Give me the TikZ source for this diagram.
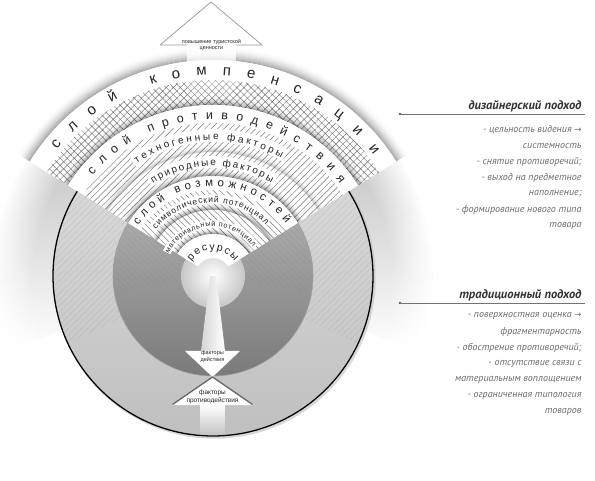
\documentclass[tikz,border=0pt]{standalone}
\usepackage{fontspec}
\setmainfont{Liberation Sans}
\newfontfamily\ptsans{PT Sans}
\newfontfamily\dvsans{DejaVu Sans}
\usetikzlibrary{decorations.text,patterns.meta,fadings}

% annular sector: inner r, outer r, start angle, end angle
\newcommand\annsec[4]{([shift={(#3:#2)}]C) arc[start angle=#3,end angle=#4,radius=#2] -- ([shift={(#4:#1)}]C) arc[start angle=#4,end angle=#3,radius=#1] -- cycle}
% soft shadow outside an arc: [strength]{radius}{start}{end}{steps}
\newcommand\ringglow[5][0.3]{%
  \foreach \k in {0,...,#5}{%
    \pgfmathsetmacro\rr{#2+\k+0.5}%
    \pgfmathsetmacro\op{#1*(1-\k/(#5+1))*(1-\k/(#5+1))}%
    \draw[black, line width=1.05pt, opacity=\op] ([shift={(#3:\rr)}]C) arc[start angle=#3,end angle=#4,radius=\rr];
  }}
% text along an arc: baseline radius, start, end, size, text
\newcommand\arctext[5]{%
  \path[decorate,decoration={text along path,text align={fit to path},text color=black!85,
    text={|\fontsize{#4}{#4}\selectfont|#5}}] ([shift={(#2:#1)}]C) arc[start angle=#2,end angle=#3,radius=#1];}

\tikzset{
  hatchA/.style={pattern={Lines[angle=45,distance=4.5pt,line width=0.45pt]},pattern color=black!55},
  hatchB/.style={pattern={Lines[angle=135,distance=4.5pt,line width=0.45pt]},pattern color=black!55},
  cross/.style={pattern={Hatch[angle=45,distance=5pt,line width=0.45pt]},pattern color=black!55},
  sidehead/.style={anchor=east,font=\ptsans\bfseries\itshape\fontsize{12.5}{14}\selectfont,text=black!80},
  sideline/.style={anchor=east,font=\ptsans\itshape\fontsize{10}{12}\selectfont,text=black!58},
  arrlabel/.style={align=center,text=black!85,inner sep=0pt}
}

\begin{document}
\begin{tikzpicture}[x=1pt,y=1pt]
\useasboundingbox (0,0) rectangle (595,480);
\coordinate (C) at (213,204);

% gray fading regions outside the fan
\shade[top color=black!22, bottom color=white] \annsec{158}{222}{148}{200};
\shade[top color=black!22, bottom color=white] \annsec{158}{222}{32}{-20};
\foreach \k in {0,...,13}{%
  \pgfmathsetmacro\rr{182+\k*3}%
  \pgfmathsetmacro\op{(\k+1)/14}%
  \draw[white, line width=3.2pt, opacity=\op] ([shift={(147:\rr)}]C) arc[start angle=147,end angle=201,radius=\rr];
  \draw[white, line width=3.2pt, opacity=\op] ([shift={(33:\rr)}]C) arc[start angle=33,end angle=-21,radius=\rr];
}

% big disk
\draw[black!25, line width=2.5pt, opacity=0.6] ([shift={(1.5,-1.5)}]C) circle[radius=160];
\shade[top color=black!12, bottom color=black!25] (C) circle[radius=160];
% dark disk
\shade[top color=black!28, middle color=black!47, bottom color=black!52] (C) circle[radius=100];
\draw[black!38, line width=0.6pt] (C) circle[radius=100];
% faint hatching outside the fan
\fill[hatchA, opacity=0.18] \annsec{100}{159}{148}{205};
\fill[hatchA, opacity=0.18] \annsec{100}{159}{32}{-25};
\fill[hatchB, opacity=0.18] \annsec{34}{99}{148}{190};
\fill[hatchB, opacity=0.18] \annsec{34}{99}{32}{-10};
\draw[black, line width=1.3pt] (C) circle[radius=160];

% white centre circle
\shade[inner color=white, outer color=black!22] (C) circle[radius=32];

% ring 1: слой компенсации
\ringglow[0.3]{216}{148}{32}{13}
\fill[white] \annsec{171}{216}{148}{32};
\fill[cross] \annsec{171}{196}{148}{32};
% shaft of the top arrow
\fill[white, path fading=south] (187,436) rectangle (236,376);
\arctext{201}{141}{37}{15}{слой компенсации}

% ring 2: слой противодействия
\ringglow[0.32]{171}{148}{32}{8}
\fill[white] \annsec{100}{171}{148}{32};
\fill[hatchA] \annsec{100}{153}{148}{32};
\ringglow[0.18]{124}{148}{32}{6}
\fill[white] \annsec{134}{147}{125}{59};
\fill[white] \annsec{108}{120}{124}{57};
\arctext{157}{140}{36}{12.5}{слой противодействия}
\arctext{136}{124}{60}{10}{техногенные факторы}
\arctext{110}{123}{58}{10}{природные факторы}

% ring 3: слой возможностей
\ringglow[0.35]{100}{148}{32}{7}
\fill[white] \annsec{66}{100}{148}{32};
\fill[hatchB] \annsec{66}{86}{148}{32};
\fill[white] \annsec{72}{81.5}{141}{44};
\arctext{90}{146}{36}{11.5}{слой возможностей}
\arctext{73.5}{141}{44}{8.5}{символический потенциал}

% ring 4: материальный потенциал
\ringglow[0.35]{66}{148}{32}{6}
\fill[white] \annsec{42}{66}{148}{32};
\fill[hatchB] \annsec{42}{66}{148}{32};
\fill[white] \annsec{48}{56}{153}{35};
\arctext{49.5}{153}{36}{7.2}{материальный потенциал}

% ring 5: ресурсы
\ringglow[0.35]{42}{148}{32}{5}
\fill[white] \annsec{18}{42}{148}{32};
\arctext{26}{146}{34}{10.5}{ресурсы}

% lower arrows
\shade[left color=black!16, right color=white] (210,204) -- (216,204) -- (225,129) -- (201,129) -- cycle;
\fill[white, path fading=south] (200,75) rectangle (225,43);
\fill[white] (185,129) -- (240,129) -- (212.5,103) -- cycle;
\fill[white] (172,75) -- (253,75) -- (212.5,103) -- cycle;
\draw[black!60, line width=1.3pt, line join=round] (172.5,75.5) -- (212.5,103) -- (252.5,75.5);
\node[arrlabel, font=\fontsize{5.5}{6.5}\selectfont] (fd) at (212.5,123.5) {факторы\\действия};
\node[arrlabel, font=\fontsize{6.5}{7.5}\selectfont] (fp) at (212.5,83) {факторы\\противодействия};

% top arrow head
\fill[white] (160,435) -- (211,478) -- (262,435) -- cycle;
\draw[black!40, line width=0.7pt, line join=round] (187,435) -- (160,435) -- (211,478) -- (262,435) -- (236,435);
\node[arrlabel, font=\fontsize{5.5}{6.5}\selectfont] (top) at (211.5,435) {повышение туристской\\ценности};

% right side: design approach
\fill[black!65] (400,366) circle[radius=1.4];
\draw[black!55, line width=0.9pt] (400,366) -- (585,366);
\node[sidehead] (h1) at (585,374) {дизайнерский подход};
\node[sideline] (a1) at (585,350) {- цельность видения {\dvsans\fontsize{8.5}{9}\selectfont →}};
\node[sideline] (a2) at (585,334) {системность};
\node[sideline] (a3) at (585,318) {- снятие противоречий;};
\node[sideline] (a4) at (585,302) {- выход на предметное};
\node[sideline] (a5) at (585,286) {наполнение;};
\node[sideline] (a6) at (585,270) {- формирование нового типа};
\node[sideline] (a7) at (585,254) {товара};

% right side: traditional approach
\fill[black!65] (400,177) circle[radius=1.4];
\draw[black!55, line width=0.9pt] (400,177) -- (585,177);
\node[sidehead] (h2) at (585,185) {традиционный подход};
\node[sideline] (b1) at (585,164) {- поверхностная оценка {\dvsans\fontsize{8.5}{9}\selectfont →}};
\node[sideline] (b2) at (585,148) {фрагментарность};
\node[sideline] (b3) at (585,132) {- обострение противоречий;};
\node[sideline] (b4) at (585,116) {- отсутствие связи с};
\node[sideline] (b5) at (585,100) {материальным воплощением};
\node[sideline] (b6) at (585,84) {- ограниченная типология};
\node[sideline] (b7) at (585,68) {товаров};
\end{tikzpicture}
\end{document}
